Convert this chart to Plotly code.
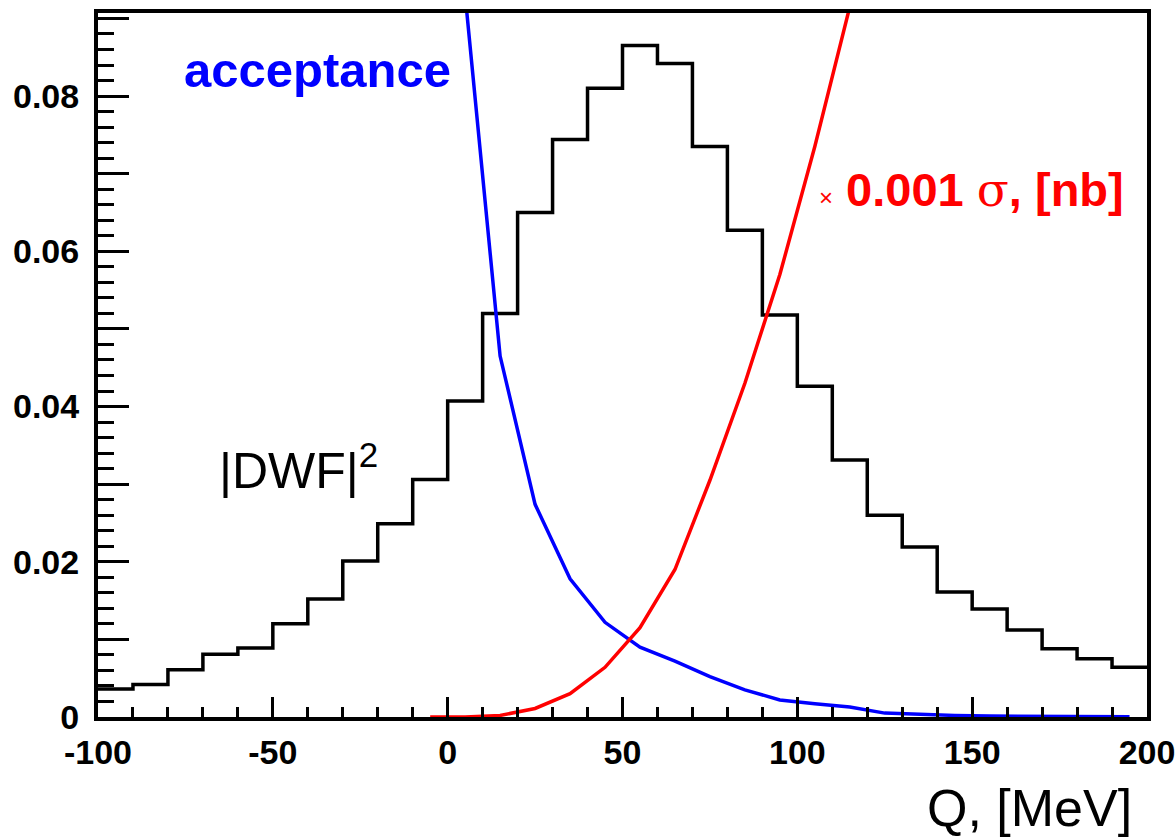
import plotly.graph_objects as go

# ---------------- data ----------------
# |DWF|^2 histogram: bin edges (MeV) and contents
bin_edges = [-100, -90, -80, -70, -60, -50, -40, -30, -20, -10, 0, 10, 20, 30, 40,
             50, 60, 70, 80, 90, 100, 110, 120, 130, 140, 150, 160, 170, 180, 190, 200]
dwf_values = [0.0036, 0.0042, 0.0061, 0.0081, 0.0089, 0.0120, 0.0152, 0.0201, 0.0249, 0.0306,
              0.0407, 0.0520, 0.0650, 0.0744, 0.0810, 0.0865, 0.0842, 0.0735, 0.0627, 0.0518,
              0.0426, 0.0331, 0.0260, 0.0219, 0.0161, 0.0139, 0.0112, 0.0088, 0.0075, 0.0064]

# acceptance curve
acc_q = [5, 15, 25, 35, 45, 55, 65, 75, 85, 95, 105, 115, 125, 135, 145, 155, 165, 175, 185, 195]
acc_values = [0.093, 0.0465, 0.0274, 0.0178, 0.0122, 0.0090, 0.0072, 0.0052, 0.0035, 0.0022,
              0.0017, 0.0013, 0.0005, 0.0003, 0.0002, 0.00012, 0.0001, 0.00006, 0.00004, 0.00002]

# x 0.001 sigma [nb]
sig_q = [-5, 5, 15, 25, 35, 45, 55, 65, 75, 85, 95, 105, 115]
sig_values = [0.0, 0.0, 0.0002, 0.0011, 0.0030, 0.0064, 0.0115, 0.0190, 0.0305, 0.0430,
              0.0570, 0.0735, 0.0915]

x_ticks = [-100, -50, 0, 50, 100, 150, 200]
x_ticklabels = ["-100", "-50", "0", "50", "100", "150", "200"]
y_label_ticks = [0, 0.02, 0.04, 0.06, 0.08]
y_ticklabels = ["0", "0.02", "0.04", "0.06", "0.08"]
y_unlabeled_ticks = [0.01, 0.03, 0.05, 0.07, 0.09]

# ---------------- figure ----------------
FONT = "Liberation Sans, Arial, Helvetica, sans-serif"
Y_RANGE = [0, 0.0907]

hist_x = bin_edges
hist_y = dwf_values + [dwf_values[-1]]

fig = go.Figure()
fig.add_trace(go.Scatter(x=hist_x, y=hist_y, mode="lines", line_shape="hv",
                         line=dict(color="black", width=3.5), showlegend=False))
fig.add_trace(go.Scatter(x=acc_q, y=acc_values, mode="lines",
                         line=dict(color="#0000ff", width=3.5), showlegend=False))
fig.add_trace(go.Scatter(x=sig_q, y=sig_values, mode="lines",
                         line=dict(color="#ff0000", width=3.5), showlegend=False))
# empty trace so that the overlay axis (unlabelled long ticks) is drawn
fig.add_trace(go.Scatter(x=[None], y=[None], yaxis="y2", mode="lines",
                         showlegend=False, hoverinfo="skip"))

fig.update_layout(
    width=1175, height=840,
    margin=dict(l=98, r=28, t=13, b=123, pad=0, autoexpand=False),
    paper_bgcolor="white", plot_bgcolor="white",
    font=dict(family=FONT, color="black"),
    showlegend=False,
)

fig.update_xaxes(
    range=[-100, 200], showgrid=False, zeroline=False, automargin=False,
    showline=True, linecolor="black", linewidth=4, mirror=True,
    ticks="inside", ticklen=20, tickwidth=3, tickcolor="black",
    tickvals=x_ticks, ticktext=x_ticklabels,
    minor=dict(dtick=10, tick0=0, ticks="inside", ticklen=10, tickwidth=3, tickcolor="black"),
    tickfont=dict(family=FONT, size=34, weight="bold", color="black"),
    ticklabelstandoff=2, ticklabeloverflow="allow",
)
fig.update_layout(
    yaxis=dict(
        range=Y_RANGE, showgrid=False, zeroline=False, automargin=False,
        showline=True, linecolor="black", linewidth=4, mirror=True,
        ticks="inside", ticklen=31, tickwidth=3, tickcolor="black",
        tickvals=y_label_ticks, ticktext=y_ticklabels,
        minor=dict(dtick=0.002, tick0=0, ticks="inside", ticklen=16, tickwidth=3,
                   tickcolor="black"),
        tickfont=dict(family=FONT, size=34, weight="bold", color="black"),
        ticklabelstandoff=8,
    ),
    yaxis2=dict(
        range=Y_RANGE, overlaying="y", side="left", showgrid=False, zeroline=False,
        automargin=False,
        showline=False, ticks="inside", ticklen=31, tickwidth=3, tickcolor="black",
        tickvals=y_unlabeled_ticks, showticklabels=False,
    ),
)

annotations = [
    dict(text="Q, [MeV]", xref="paper", yref="paper", x=1, y=0, xanchor="right", yanchor="middle",
         xshift=-13, yshift=-91, showarrow=False,
         font=dict(family=FONT, size=52, color="black")),
    dict(text="<b>acceptance</b>", xref="x", yref="y", x=-76, y=0.0833, xanchor="left",
         yanchor="middle", showarrow=False,
         font=dict(family=FONT, size=49, color="#0000ff")),
    dict(text="|DWF|<sup>2</sup>", xref="x", yref="y", x=-66, y=0.0322, xanchor="left",
         yanchor="middle", showarrow=False,
         font=dict(family=FONT, size=50, color="black")),
    dict(text="<span style='font-size:24px'>×</span> <b>0.001</b> "
              "<span style='font-family:DejaVu Serif'>σ</span><b>, [nb]</b>",
         xref="x", yref="y", x=105.5, y=0.0679, xanchor="left", yanchor="middle",
         showarrow=False, font=dict(family=FONT, size=47, color="#ff0000")),
]
fig.update_layout(annotations=annotations)

fig.write_html("out.html")
